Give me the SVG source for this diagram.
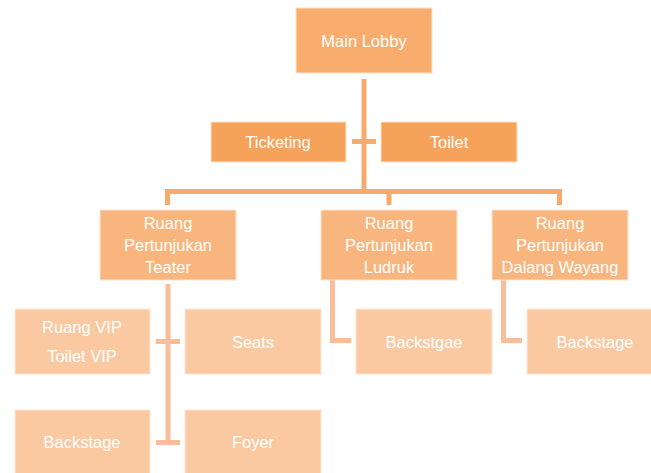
<svg xmlns="http://www.w3.org/2000/svg" width="651" height="473" viewBox="0 0 651 473">
<style>
text{font-family:"Liberation Sans",Arial,sans-serif;font-size:16.5px;fill:#ffffff;text-anchor:middle;dominant-baseline:central}
.l1{fill:#F8AD6E;stroke:#fde3cc;stroke-width:1}
.l1b{fill:#F7A25A;stroke:#fde3cc;stroke-width:1}
.l2{fill:#F9B57E;stroke:#fde3cc;stroke-width:1}
.l3{fill:#FAC9A2;stroke:#fde8d6;stroke-width:1}
.c1{fill:none;stroke:#F7AA6C;stroke-width:5}
.c2{fill:none;stroke:#F9BE99;stroke-width:5}
</style>
<rect width="651" height="473" fill="#ffffff"/>
<g id="connectors">
<path class="c1" d="M364 79V192"/>
<path class="c1" d="M352 141.5H376"/>
<path class="c1" d="M167.5 205V191.5H559.5V205"/>
<path class="c1" d="M389 191.5V205"/>
<path class="c2" d="M168 284V442.5"/>
<path class="c2" d="M156 341.5H180"/>
<path class="c2" d="M156 442.5H180"/>
<path class="c2" d="M332.5 280V340.5H351"/>
<path class="c2" d="M503.5 280V340.5H522"/>
</g>
<g id="main-lobby"><rect class="l1" x="296" y="8" width="136" height="65"/><text x="364" y="41">Main Lobby</text></g>
<g id="ticketing"><rect class="l1b" x="211" y="122" width="135" height="40"/><text x="278" y="142">Ticketing</text></g>
<g id="toilet"><rect class="l1b" x="381" y="122" width="136" height="40"/><text x="449" y="142">Toilet</text></g>
<g id="teater"><rect class="l2" x="100" y="210" width="136" height="70"/><text x="168" y="223">Ruang</text><text x="168" y="245">Pertunjukan</text><text x="168" y="267">Teater</text></g>
<g id="ludruk"><rect class="l2" x="321" y="210" width="136" height="70"/><text x="389" y="223">Ruang</text><text x="389" y="245">Pertunjukan</text><text x="389" y="267">Ludruk</text></g>
<g id="dalang"><rect class="l2" x="492" y="210" width="136" height="70"/><text x="560" y="223">Ruang</text><text x="560" y="245">Pertunjukan</text><text x="560" y="267">Dalang Wayang</text></g>
<g id="vip"><rect class="l3" x="15" y="309" width="135" height="65"/><text x="82" y="327">Ruang VIP</text><text x="82" y="356">Toilet VIP</text></g>
<g id="seats"><rect class="l3" x="185" y="309" width="136" height="65"/><text x="253" y="342">Seats</text></g>
<g id="backstage-teater"><rect class="l3" x="15" y="410" width="135" height="65"/><text x="82" y="442">Backstage</text></g>
<g id="foyer"><rect class="l3" x="185" y="410" width="136" height="65"/><text x="253" y="442">Foyer</text></g>
<g id="backstgae"><rect class="l3" x="356" y="309" width="136" height="65"/><text x="424" y="342">Backstgae</text></g>
<g id="backstage-dalang"><rect class="l3" x="527" y="309" width="136" height="65"/><text x="595" y="342">Backstage</text></g>
</svg>
